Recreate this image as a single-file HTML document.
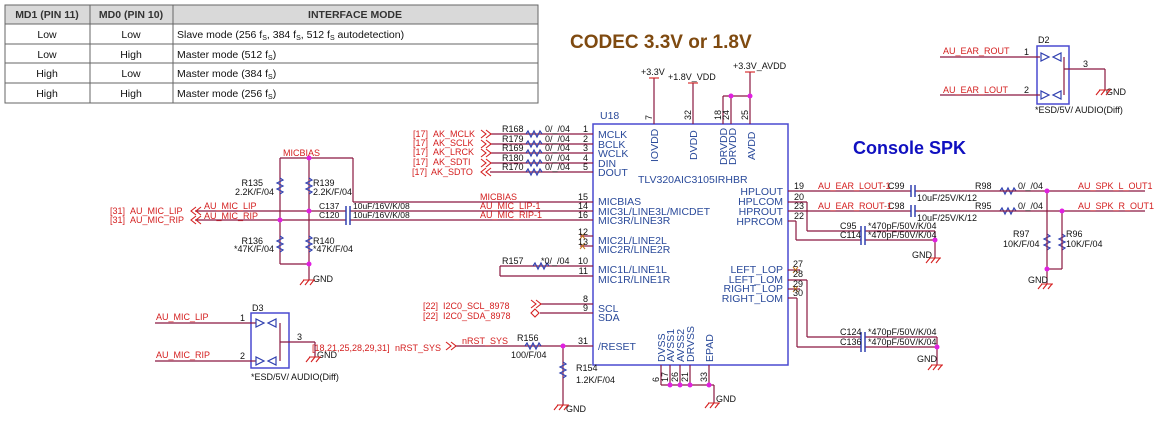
<!DOCTYPE html>
<html><head><meta charset="utf-8"><style>
html,body{margin:0;padding:0;background:#fff;}
svg{display:block;font-family:"Liberation Sans",Arial,sans-serif;}
.w{stroke:#8a1840;stroke-width:1.2;fill:none}
.b{stroke:#4a4ad0;stroke-width:1.5;fill:none}
.r{fill:#d42020;font-size:9px}
.p{fill:#2a4a9a;font-size:10.5px}
.k{fill:#111;font-size:9px}
.t{font-size:10.5px;fill:#111}
.d{fill:#e020e0}
.z{stroke:#3040b0;stroke-width:1.2;fill:none}
.g{stroke:#d42020;stroke-width:1.1;fill:none}
</style></head><body>
<svg width="1175" height="425" viewBox="0 0 1175 425" xmlns="http://www.w3.org/2000/svg">
<!-- table -->
<rect x="5" y="5" width="533" height="19" fill="#d9d9d9"/>
<g stroke="#666" stroke-width="1" fill="none">
<rect x="5" y="5" width="533" height="98"/>
<line x1="90" y1="5" x2="90" y2="103"/><line x1="173" y1="5" x2="173" y2="103"/>
<line x1="5" y1="24" x2="538" y2="24"/><line x1="5" y1="44" x2="538" y2="44"/><line x1="5" y1="63" x2="538" y2="63"/><line x1="5" y1="83" x2="538" y2="83"/>
</g>
<g class="t">
<text x="47" y="18" text-anchor="middle" font-weight="bold" fill="#333">MD1 (PIN 11)</text>
<text x="131" y="18" text-anchor="middle" font-weight="bold" fill="#333">MD0 (PIN 10)</text>
<text x="355" y="18" text-anchor="middle" font-weight="bold" fill="#333">INTERFACE MODE</text>
<text x="47" y="38" text-anchor="middle">Low</text><text x="131" y="38" text-anchor="middle">Low</text>
<text x="177" y="38">Slave mode (256 f<tspan font-size="7" dy="2">S</tspan><tspan dy="-2">, 384 f</tspan><tspan font-size="7" dy="2">S</tspan><tspan dy="-2">, 512 f</tspan><tspan font-size="7" dy="2">S</tspan><tspan dy="-2"> autodetection)</tspan></text>
<text x="47" y="58" text-anchor="middle">Low</text><text x="131" y="58" text-anchor="middle">High</text>
<text x="177" y="58">Master mode (512 f<tspan font-size="7" dy="2">S</tspan><tspan dy="-2">)</tspan></text>
<text x="47" y="77" text-anchor="middle">High</text><text x="131" y="77" text-anchor="middle">Low</text>
<text x="177" y="77">Master mode (384 f<tspan font-size="7" dy="2">S</tspan><tspan dy="-2">)</tspan></text>
<text x="47" y="97" text-anchor="middle">High</text><text x="131" y="97" text-anchor="middle">High</text>
<text x="177" y="97">Master mode (256 f<tspan font-size="7" dy="2">S</tspan><tspan dy="-2">)</tspan></text>
</g>
<text x="570" y="48" font-size="19" font-weight="bold" fill="#7f4a10">CODEC 3.3V or 1.8V</text>
<text x="853" y="154" font-size="18" font-weight="bold" fill="#1010c0">Console SPK</text>

<!-- U18 box -->
<rect x="593" y="124" width="195" height="241" class="b"/>
<text x="600" y="119" class="p">U18</text>
<text x="638" y="183" class="p" font-size="10">TLV320AIC3105IRHBR</text>
<g class="p">
<text x="598" y="138">MCLK</text><text x="598" y="148">BCLK</text><text x="598" y="157">WCLK</text><text x="598" y="167">DIN</text><text x="598" y="176">DOUT</text>
<text x="598" y="205">MICBIAS</text><text x="598" y="215">MIC3L/LINE3L/MICDET</text><text x="598" y="224">MIC3R/LINE3R</text>
<text x="598" y="244">MIC2L/LINE2L</text><text x="598" y="253">MIC2R/LINE2R</text>
<text x="598" y="273">MIC1L/LINE1L</text><text x="598" y="283">MIC1R/LINE1R</text>
<text x="598" y="312">SCL</text><text x="598" y="321">SDA</text><text x="598" y="350">/RESET</text>
<g text-anchor="end"><text x="783" y="195">HPLOUT</text><text x="783" y="205">HPLCOM</text><text x="783" y="215">HPROUT</text><text x="783" y="225">HPRCOM</text>
<text x="783" y="273">LEFT_LOP</text><text x="783" y="283">LEFT_LOM</text><text x="783" y="292">RIGHT_LOP</text><text x="783" y="302">RIGHT_LOM</text></g>
<g transform="rotate(-90)">
<text x="-162" y="658">IOVDD</text><text x="-160" y="697">DVDD</text><text x="-165" y="727">DRVDD</text><text x="-165" y="736">DRVDD</text><text x="-160" y="755">AVDD</text>
<text x="-362" y="665">DVSS</text><text x="-362" y="674">AVSS1</text><text x="-362" y="684">AVSS2</text><text x="-362" y="694">DRVSS</text><text x="-362" y="713">EPAD</text>
</g>
</g>
<!-- power pins -->
<g class="w">
<line x1="654" y1="78" x2="654" y2="124"/><line x1="693" y1="83" x2="693" y2="124"/>
<line x1="723" y1="96" x2="723" y2="124"/><line x1="731" y1="96" x2="731" y2="124"/><line x1="750" y1="72" x2="750" y2="124"/>
<line x1="723" y1="96" x2="750" y2="96"/>
</g>
<g class="g"><line x1="649" y1="78" x2="659" y2="78"/><line x1="688" y1="83" x2="698" y2="83"/><line x1="745" y1="72" x2="755" y2="72"/></g>
<g class="k">
<text x="641" y="75">+3.3V</text><text x="668" y="80">+1.8V_VDD</text><text x="733" y="69">+3.3V_AVDD</text>
<g transform="rotate(-90)"><text x="-120" y="652">7</text><text x="-120" y="691">32</text><text x="-120" y="721">18</text><text x="-120" y="729">24</text><text x="-120" y="748">25</text>
<text x="-382" y="659">6</text><text x="-382" y="668">17</text><text x="-382" y="678">26</text><text x="-382" y="688">21</text><text x="-382" y="707">33</text></g>
</g>
<circle cx="731" cy="96" r="2.5" class="d"/><circle cx="750" cy="96" r="2.5" class="d"/>
<!-- bottom pins -->
<g class="w"><line x1="661" y1="365" x2="661" y2="385"/><line x1="670" y1="365" x2="670" y2="385"/><line x1="680" y1="365" x2="680" y2="385"/><line x1="690" y1="365" x2="690" y2="385"/><line x1="709" y1="365" x2="709" y2="385"/>
<line x1="661" y1="385" x2="714" y2="385"/><line x1="714" y1="385" x2="714" y2="403"/></g>
<circle cx="670" cy="385" r="2.5" class="d"/><circle cx="680" cy="385" r="2.5" class="d"/><circle cx="690" cy="385" r="2.5" class="d"/><circle cx="709" cy="385" r="2.5" class="d"/>

<!-- left pins -->
<g class="w">
<line x1="490" y1="134" x2="593" y2="134"/><line x1="490" y1="144" x2="593" y2="144"/><line x1="490" y1="153" x2="593" y2="153"/><line x1="490" y1="163" x2="593" y2="163"/><line x1="490" y1="172" x2="593" y2="172"/>
<line x1="353" y1="202" x2="593" y2="202"/>
<line x1="195" y1="211" x2="346" y2="211"/><line x1="350" y1="211" x2="593" y2="211"/>
<line x1="195" y1="220" x2="346" y2="220"/><line x1="350" y1="220" x2="593" y2="220"/>
<line x1="280" y1="158" x2="353" y2="158"/><line x1="353" y1="158" x2="353" y2="202"/>
<line x1="280" y1="158" x2="280" y2="264"/><line x1="309" y1="158" x2="309" y2="280"/><line x1="280" y1="264" x2="309" y2="264"/>
<line x1="500" y1="266" x2="593" y2="266"/><line x1="500" y1="276" x2="593" y2="276"/><line x1="500" y1="266" x2="500" y2="276"/>
<line x1="540" y1="304" x2="593" y2="304"/><line x1="540" y1="313" x2="593" y2="313"/>
<line x1="455" y1="346" x2="593" y2="346"/><line x1="563" y1="346" x2="563" y2="405"/>
<line x1="580" y1="236" x2="593" y2="236"/><line x1="580" y1="246" x2="593" y2="246"/>
</g>
<g stroke="#c87a20" stroke-width="1"><path d="M580 233l5 6M585 233l-5 6M580 243l5 6M585 243l-5 6"/></g>
<g class="k" text-anchor="end">
<text x="588" y="132">1</text><text x="588" y="142">2</text><text x="588" y="151">3</text><text x="588" y="161">4</text><text x="588" y="170">5</text>
<text x="588" y="200">15</text><text x="588" y="209">14</text><text x="588" y="218">16</text><text x="588" y="235">12</text><text x="588" y="245">13</text>
<text x="588" y="264">10</text><text x="588" y="274">11</text><text x="588" y="302">8</text><text x="588" y="311">9</text><text x="588" y="344">31</text>
</g>
<circle cx="309" cy="158" r="2.5" class="d"/><circle cx="309" cy="211" r="2.5" class="d"/><circle cx="280" cy="220" r="2.5" class="d"/><circle cx="309" cy="264" r="2.5" class="d"/><circle cx="563" cy="346" r="2.5" class="d"/>
<!-- caps C137/C120 -->
<g stroke="#3040b0" stroke-width="1.5"><line x1="346" y1="206" x2="346" y2="225"/><line x1="350" y1="206" x2="350" y2="225"/></g>
<!-- resistors -->
<g class="z">
<path d="M280 178l3 2-6 3 6 3-6 3 6 3-3 2"/><path d="M309 178l3 2-6 3 6 3-6 3 6 3-3 2"/>
<path d="M280 236l3 2-6 3 6 3-6 3 6 3-3 2"/><path d="M309 236l3 2-6 3 6 3-6 3 6 3-3 2"/>
<path d="M526 134l2-3 3 6 3-6 3 6 3-6 2 3"/><path d="M526 144l2-3 3 6 3-6 3 6 3-6 2 3"/><path d="M526 153l2-3 3 6 3-6 3 6 3-6 2 3"/><path d="M526 163l2-3 3 6 3-6 3 6 3-6 2 3"/><path d="M526 172l2-3 3 6 3-6 3 6 3-6 2 3"/>
<path d="M533 266l2-3 3 6 3-6 3 6 3-6 2 3"/><path d="M525 346l2-3 3 6 3-6 3 6 3-6 2 3"/>
<path d="M563 362l3 2-6 3 6 3-6 3 6 3-3 2"/>
<path d="M1047 234l3 2-6 3 6 3-6 3 6 3-3 2"/><path d="M1062 234l3 2-6 3 6 3-6 3 6 3-3 2"/>
<path d="M1000 191l2-3 3 6 3-6 3 6 3-6 2 3"/><path d="M1000 211l2-3 3 6 3-6 3 6 3-6 2 3"/>
</g>
<g class="k">
<text x="263" y="186" text-anchor="end">R135</text>
<text x="274" y="195" text-anchor="end">2.2K/F/04</text><text x="313" y="186">R139</text><text x="313" y="195">2.2K/F/04</text>
<text x="263" y="244" text-anchor="end">R136</text>
<text x="274" y="252" text-anchor="end">*47K/F/04</text><text x="313" y="244">R140</text><text x="313" y="252">*47K/F/04</text>
<text x="313" y="282">GND</text>
<text x="319" y="209" font-size="8.5">C137</text><text x="319" y="218" font-size="8.5">C120</text>
<text x="353" y="209" font-size="8.5">10uF/16V/K/08</text><text x="353" y="218" font-size="8.5">10uF/16V/K/08</text>
<text x="502" y="132">R168</text><text x="502" y="142">R179</text><text x="502" y="151">R169</text><text x="502" y="161">R180</text><text x="502" y="170">R170</text>
<text x="545" y="132">0/_/04</text><text x="545" y="142">0/_/04</text><text x="545" y="151">0/_/04</text><text x="545" y="161">0/_/04</text><text x="545" y="170">0/_/04</text>
<text x="502" y="264">R157</text><text x="541" y="264">*0/_/04</text>
<text x="517" y="341">R156</text><text x="511" y="358">100/F/04</text>
<text x="576" y="371">R154</text><text x="576" y="383">1.2K/F/04</text><text x="566" y="412">GND</text>
<text x="716" y="402">GND</text>
</g>
<text x="125" y="214" class="r" text-anchor="end" font-size="8.5">[31]</text><text x="130" y="214" class="r">AU_MIC_LIP</text>
<text x="125" y="223" class="r" text-anchor="end" font-size="8.5">[31]</text><text x="130" y="223" class="r">AU_MIC_RIP</text>
<text x="204" y="209" class="r">AU_MIC_LIP</text><text x="204" y="219" class="r">AU_MIC_RIP</text>
<text x="283" y="156" class="r">MICBIAS</text>
<text x="480" y="200" class="r">MICBIAS</text><text x="480" y="209" class="r">AU_MIC_LIP-1</text><text x="480" y="218" class="r">AU_MIC_RIP-1</text>
<g class="r"><text x="413" y="137">[17]</text><text x="413" y="146">[17]</text><text x="413" y="155">[17]</text><text x="413" y="165">[17]</text><text x="412" y="175">[17]</text>
<text x="433" y="137">AK_MCLK</text><text x="433" y="146">AK_SCLK</text><text x="433" y="155">AK_LRCK</text><text x="433" y="165">AK_SDTI</text><text x="431" y="175">AK_SDTO</text>
<text x="423" y="309">[22]</text><text x="443" y="309">I2C0_SCL_8978</text><text x="423" y="319">[22]</text><text x="443" y="319">I2C0_SDA_8978</text>
<text x="312" y="351">[18,21,25,28,29,31]</text><text x="395" y="351">nRST_SYS</text><text x="462" y="344">nRST_SYS</text></g>
<!-- chevrons -->
<g class="g">
<path d="M481 130l5 4-5 4M486 130l5 4-5 4"/><path d="M481 140l5 4-5 4M486 140l5 4-5 4"/><path d="M481 149l5 4-5 4M486 149l5 4-5 4"/><path d="M481 159l5 4-5 4M486 159l5 4-5 4"/>
<path d="M486 168l-5 4 5 4M491 168l-5 4 5 4"/>
<path d="M196 207l-5 4 5 4M201 207l-5 4 5 4"/><path d="M196 216l-5 4 5 4M201 216l-5 4 5 4"/>
<path d="M531 300l5 4-5 4M536 300l5 4-5 4"/><path d="M535 309l-4 4 4 4 4-4z"/>
<path d="M446 342l5 4-5 4M451 342l5 4-5 4"/>
</g>

<!-- right side -->
<g class="w">
<line x1="788" y1="191" x2="911" y2="191"/><line x1="915" y1="191" x2="1145" y2="191"/>
<line x1="788" y1="211" x2="911" y2="211"/><line x1="915" y1="211" x2="1145" y2="211"/>
<line x1="788" y1="202" x2="807" y2="202"/><line x1="807" y1="202" x2="807" y2="231"/><line x1="807" y1="231" x2="861" y2="231"/><line x1="865" y1="231" x2="935" y2="231"/>
<line x1="788" y1="221" x2="796" y2="221"/><line x1="796" y1="221" x2="796" y2="240"/><line x1="796" y1="240" x2="861" y2="240"/><line x1="865" y1="240" x2="935" y2="240"/>
<line x1="935" y1="231" x2="935" y2="258"/>
<line x1="1047" y1="191" x2="1047" y2="284"/><line x1="1062" y1="211" x2="1062" y2="269"/><line x1="1047" y1="269" x2="1062" y2="269"/>
<line x1="788" y1="270" x2="800" y2="270"/><line x1="788" y1="280" x2="807" y2="280"/><line x1="788" y1="289" x2="800" y2="289"/><line x1="788" y1="298" x2="797" y2="298"/>
<line x1="807" y1="280" x2="807" y2="337"/><line x1="807" y1="337" x2="861" y2="337"/><line x1="865" y1="337" x2="937" y2="337"/>
<line x1="797" y1="298" x2="797" y2="347"/><line x1="797" y1="347" x2="861" y2="347"/><line x1="865" y1="347" x2="937" y2="347"/><line x1="937" y1="337" x2="937" y2="365"/>
</g>
<g stroke="#c87a20" stroke-width="1"><path d="M793 267l5 6M798 267l-5 6M793 286l5 6M798 286l-5 6"/></g>
<g stroke="#3040b0" stroke-width="1.5"><line x1="911" y1="185" x2="911" y2="197"/><line x1="915" y1="185" x2="915" y2="197"/><line x1="911" y1="205" x2="911" y2="217"/><line x1="915" y1="205" x2="915" y2="217"/>
<line x1="861" y1="226" x2="861" y2="245"/><line x1="865" y1="226" x2="865" y2="245"/><line x1="861" y1="332" x2="861" y2="352"/><line x1="865" y1="332" x2="865" y2="352"/></g>
<circle cx="1047" cy="191" r="2.5" class="d"/><circle cx="1062" cy="211" r="2.5" class="d"/><circle cx="1047" cy="269" r="2.5" class="d"/><circle cx="935" cy="240" r="2.5" class="d"/><circle cx="937" cy="347" r="2.5" class="d"/>
<g class="k">
<text x="794" y="189">19</text><text x="794" y="200">20</text><text x="794" y="209">23</text><text x="794" y="219">22</text>
<text x="793" y="267">27</text><text x="793" y="277">28</text><text x="793" y="287">29</text><text x="793" y="296">30</text>
<text x="888" y="189">C99</text><text x="888" y="209">C98</text><text x="917" y="201">10uF/25V/K/12</text><text x="917" y="221">10uF/25V/K/12</text>
<text x="975" y="189">R98</text><text x="975" y="209">R95</text><text x="1018" y="189">0/_/04</text><text x="1018" y="209">0/_/04</text>
<text x="840" y="229">C95</text><text x="840" y="238">C114</text><text x="868" y="229">*470pF/50V/K/04</text><text x="868" y="238">*470pF/50V/K/04</text>
<text x="912" y="258">GND</text>
<text x="840" y="335">C124</text><text x="840" y="345">C136</text><text x="868" y="335">*470pF/50V/K/04</text><text x="868" y="345">*470pF/50V/K/04</text>
<text x="917" y="362">GND</text>
<text x="1013" y="237">R97</text><text x="1003" y="247">10K/F/04</text><text x="1066" y="237">R96</text><text x="1066" y="247">10K/F/04</text>
<text x="1028" y="283">GND</text>
</g>
<g class="r"><text x="818" y="189">AU_EAR_LOUT-1</text><text x="818" y="209">AU_EAR_ROUT-1</text>
<text x="1078" y="189">AU_SPK_L_OUT1</text><text x="1078" y="209">AU_SPK_R_OUT1</text></g>

<!-- D2 -->
<rect x="1037" y="46" width="32" height="58" class="b" stroke-width="1.2"/>
<g class="w"><line x1="940" y1="57" x2="1040" y2="57"/><line x1="940" y1="95" x2="1040" y2="95"/><line x1="1064" y1="57" x2="1064" y2="95"/><line x1="1064" y1="69" x2="1105" y2="69"/><line x1="1105" y1="69" x2="1105" y2="90"/></g>
<g class="z"><path d="M1041 53v8l8-4zM1061 53v8l-8-4z"/><path d="M1041 91v8l8-4zM1061 91v8l-8-4z"/></g>
<g class="k"><text x="1038" y="43">D2</text><text x="1024" y="55">1</text><text x="1024" y="93">2</text><text x="1083" y="67">3</text><text x="1106" y="95">GND</text><text x="1035" y="113">*ESD/5V/ AUDIO(Diff)</text></g>
<g class="r"><text x="943" y="54">AU_EAR_ROUT</text><text x="943" y="93">AU_EAR_LOUT</text></g>
<!-- D3 -->
<rect x="251" y="313" width="38" height="55" class="b" stroke-width="1.2"/>
<g class="w"><line x1="155" y1="323" x2="256" y2="323"/><line x1="155" y1="361" x2="256" y2="361"/><line x1="280" y1="323" x2="280" y2="361"/><line x1="280" y1="342" x2="315" y2="342"/><line x1="315" y1="342" x2="315" y2="357"/></g>
<g class="z"><path d="M256 319v8l8-4zM276 319v8l-8-4z"/><path d="M256 357v8l8-4zM276 357v8l-8-4z"/></g>
<g class="k"><text x="252" y="311">D3</text><text x="240" y="321">1</text><text x="240" y="359">2</text><text x="297" y="340">3</text><text x="317" y="358">GND</text><text x="251" y="380">*ESD/5V/ AUDIO(Diff)</text></g>
<g class="r"><text x="156" y="320">AU_MIC_LIP</text><text x="156" y="358">AU_MIC_RIP</text></g>

<!-- GND symbols -->
<g class="g">
<path d="M303 280h12M304 280l-4 5M309 280l-4 5M314 280l-4 5"/>
<path d="M557 405h12M558 405l-4 5M563 405l-4 5M568 405l-4 5"/>
<path d="M708 403h12M709 403l-4 5M714 403l-4 5M719 403l-4 5"/>
<path d="M929 258h12M930 258l-4 5M935 258l-4 5M940 258l-4 5"/>
<path d="M931 365h12M932 365l-4 5M937 365l-4 5M942 365l-4 5"/>
<path d="M1041 284h12M1042 284l-4 5M1047 284l-4 5M1052 284l-4 5"/>
<path d="M1099 90h12M1100 90l-4 5M1105 90l-4 5M1110 90l-4 5"/>
<path d="M309 357h12M310 357l-4 5M315 357l-4 5M320 357l-4 5"/>
</g>
</svg>
</body></html>
